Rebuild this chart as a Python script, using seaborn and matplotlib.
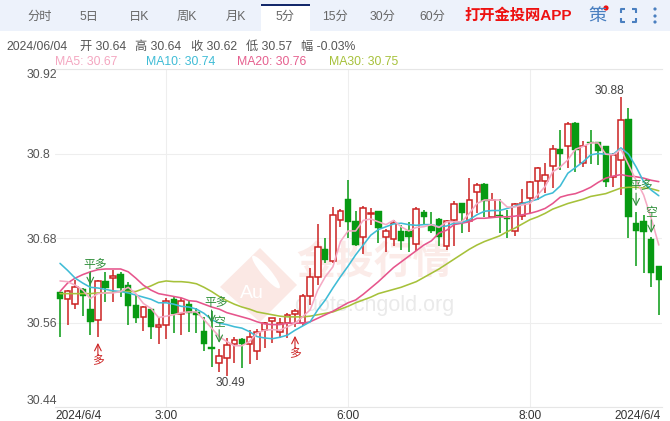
import numpy as np
import pandas as pd
import seaborn as sns
import matplotlib.pyplot as plt
from matplotlib.patches import Polygon, Rectangle, Circle, Ellipse

opens = [
    30.603, 30.593, 30.586, 30.607, 30.579, 30.563, 30.619, 30.623, 30.629, 30.613,
    30.585, 30.568, 30.579, 30.553, 30.557, 30.593, 30.572, 30.586, 30.575, 30.548,
    30.525, 30.502, 30.510, 30.529, 30.536, 30.530, 30.519, 30.550, 30.562, 30.546,
    30.560, 30.572, 30.559, 30.598, 30.625, 30.665, 30.648, 30.705, 30.735, 30.704,
    30.681, 30.714, 30.718, 30.681, 30.678, 30.690, 30.690, 30.671, 30.717, 30.698,
    30.707, 30.669, 30.706, 30.729, 30.704, 30.746, 30.757, 30.710, 30.712, 30.709,
    30.690, 30.711, 30.737, 30.761, 30.761, 30.782, 30.806, 30.810, 30.843, 30.786,
    30.817, 30.816, 30.811, 30.766, 30.791, 30.849, 30.701, 30.704, 30.679, 30.640]
closes = [
    30.593, 30.605, 30.610, 30.598, 30.561, 30.619, 30.609, 30.626, 30.609, 30.584,
    30.567, 30.582, 30.553, 30.557, 30.591, 30.572, 30.590, 30.573, 30.570, 30.529,
    30.523, 30.513, 30.528, 30.535, 30.529, 30.540, 30.546, 30.560, 30.566, 30.560,
    30.570, 30.577, 30.598, 30.624, 30.667, 30.649, 30.713, 30.719, 30.703, 30.670,
    30.722, 30.716, 30.694, 30.690, 30.701, 30.676, 30.682, 30.721, 30.710, 30.690,
    30.681, 30.704, 30.728, 30.716, 30.734, 30.755, 30.733, 30.734, 30.711, 30.707,
    30.728, 30.729, 30.759, 30.779, 30.769, 30.806, 30.799, 30.842, 30.805, 30.810,
    30.815, 30.804, 30.760, 30.798, 30.847, 30.710, 30.690, 30.688, 30.630, 30.620]
highs = [
    30.603, 30.606, 30.620, 30.609, 30.630, 30.620, 30.632, 30.634, 30.632, 30.617,
    30.599, 30.583, 30.581, 30.566, 30.595, 30.596, 30.595, 30.592, 30.581, 30.568,
    30.577, 30.523, 30.538, 30.540, 30.538, 30.549, 30.551, 30.561, 30.567, 30.566,
    30.573, 30.579, 30.601, 30.637, 30.700, 30.680, 30.724, 30.721, 30.762, 30.719,
    30.725, 30.723, 30.718, 30.693, 30.706, 30.699, 30.703, 30.724, 30.720, 30.717,
    30.708, 30.706, 30.732, 30.730, 30.765, 30.758, 30.758, 30.744, 30.736, 30.720,
    30.729, 30.749, 30.761, 30.781, 30.786, 30.812, 30.833, 30.845, 30.845, 30.818,
    30.833, 30.817, 30.811, 30.801, 30.880, 30.864, 30.717, 30.713, 30.682, 30.640]
lows = [
    30.540, 30.557, 30.579, 30.569, 30.542, 30.540, 30.589, 30.589, 30.596, 30.557,
    30.559, 30.548, 30.537, 30.530, 30.537, 30.545, 30.542, 30.547, 30.545, 30.519,
    30.497, 30.489, 30.484, 30.503, 30.496, 30.501, 30.507, 30.524, 30.531, 30.538,
    30.538, 30.554, 30.555, 30.585, 30.613, 30.644, 30.644, 30.695, 30.680, 30.668,
    30.657, 30.699, 30.673, 30.660, 30.668, 30.663, 30.660, 30.661, 30.698, 30.687,
    30.668, 30.663, 30.669, 30.687, 30.689, 30.715, 30.710, 30.710, 30.687, 30.680,
    30.683, 30.706, 30.715, 30.734, 30.744, 30.751, 30.777, 30.780, 30.774, 30.781,
    30.785, 30.784, 30.753, 30.752, 30.741, 30.680, 30.640, 30.630, 30.610, 30.570]

ma5 = [
    30.619, 30.618, 30.613, 30.606, 30.594, 30.601, 30.602, 30.602, 30.604, 30.610,
    30.601, 30.587, 30.580, 30.567, 30.569, 30.571, 30.574, 30.575, 30.575, 30.564,
    30.552, 30.540, 30.533, 30.527, 30.527, 30.533, 30.545, 30.549, 30.550, 30.549,
    30.554, 30.559, 30.568, 30.578, 30.606, 30.625, 30.639, 30.675, 30.690, 30.690,
    30.705, 30.707, 30.703, 30.699, 30.705, 30.696, 30.690, 30.695, 30.696, 30.699,
    30.695, 30.703, 30.703, 30.703, 30.715, 30.729, 30.734, 30.734, 30.734, 30.724,
    30.724, 30.727, 30.729, 30.741, 30.753, 30.774, 30.781, 30.791, 30.806, 30.810,
    30.815, 30.815, 30.799, 30.798, 30.806, 30.784, 30.762, 30.741, 30.708, 30.670]
ma10 = [
    30.644, 30.634, 30.623, 30.616, 30.610, 30.609, 30.607, 30.605, 30.604, 30.602,
    30.599, 30.596, 30.593, 30.588, 30.588, 30.586, 30.583, 30.582, 30.579, 30.573,
    30.564, 30.559, 30.557, 30.554, 30.552, 30.547, 30.540, 30.538, 30.537, 30.539,
    30.542, 30.549, 30.555, 30.561, 30.578, 30.592, 30.609, 30.625, 30.640, 30.656,
    30.670, 30.684, 30.692, 30.696, 30.700, 30.701, 30.699, 30.698, 30.699, 30.699,
    30.696, 30.697, 30.701, 30.702, 30.706, 30.713, 30.718, 30.719, 30.719, 30.722,
    30.725, 30.729, 30.732, 30.735, 30.741, 30.744, 30.754, 30.772, 30.780, 30.788,
    30.798, 30.800, 30.799, 30.799, 30.808, 30.799, 30.781, 30.760, 30.748, 30.740]
ma20 = [
    30.604, 30.616, 30.623, 30.628, 30.632, 30.635, 30.636, 30.636, 30.636, 30.632,
    30.623, 30.613, 30.606, 30.601, 30.599, 30.597, 30.595, 30.591, 30.590, 30.586,
    30.582, 30.579, 30.574, 30.571, 30.568, 30.565, 30.561, 30.558, 30.557, 30.557,
    30.559, 30.559, 30.559, 30.561, 30.566, 30.571, 30.576, 30.582, 30.588, 30.592,
    30.600, 30.609, 30.618, 30.628, 30.638, 30.646, 30.654, 30.662, 30.670, 30.676,
    30.687, 30.691, 30.699, 30.701, 30.703, 30.708, 30.708, 30.709, 30.710, 30.710,
    30.711, 30.713, 30.715, 30.718, 30.722, 30.729, 30.738, 30.741, 30.743, 30.747,
    30.752, 30.759, 30.765, 30.768, 30.770, 30.768, 30.767, 30.765, 30.762, 30.760]
ma30 = [
    30.601, 30.601, 30.601, 30.601, 30.601, 30.602, 30.602, 30.603, 30.604, 30.604,
    30.604, 30.608, 30.612, 30.617, 30.619, 30.618, 30.618, 30.617, 30.615, 30.610,
    30.604, 30.597, 30.591, 30.586, 30.582, 30.579, 30.575, 30.573, 30.571, 30.569,
    30.568, 30.568, 30.568, 30.569, 30.571, 30.573, 30.575, 30.579, 30.583, 30.588,
    30.592, 30.596, 30.601, 30.604, 30.607, 30.610, 30.614, 30.618, 30.624, 30.630,
    30.636, 30.643, 30.650, 30.657, 30.664, 30.670, 30.675, 30.679, 30.683, 30.689,
    30.694, 30.700, 30.706, 30.710, 30.715, 30.721, 30.725, 30.729, 30.732, 30.735,
    30.739, 30.741, 30.743, 30.747, 30.751, 30.752, 30.752, 30.751, 30.750, 30.747]

y_ticks = [30.44, 30.56, 30.68, 30.8, 30.92]
y_labels = ['30.44', '30.56', '30.68', '30.8', '30.92']
x_ticks = [-0.6, 14, 38, 62, 79.3]
x_labels = ['2024/6/4', '3:00', '6:00', '8:00', '2024/6/4']

tabs = ['分时', '5日', '日K', '周K', '月K', '5分', '15分', '30分', '60分']
tab_x = [40, 89, 139, 187, 236, 285, 335, 383, 432]

info = ['2024/06/04', '开 30.64', '高 30.64', '收 30.62', '低 30.57', '幅 -0.03%']
info_x = [6, 80, 135, 191, 246, 301]

# index of candle, text, price of arrow tip, direction
sig_x = [4, 5, 20, 21, 31, 76, 78]
sig_text = ['平多', '多', '平多', '空', '多', '平多', '空']
sig_price = [30.613, 30.531, 30.559, 30.531, 30.541, 30.725, 30.687]
sig_dir = ['down', 'up', 'down', 'down', 'up', 'down', 'down']

RED = '#cc2222'
GREEN = '#079a12'
SIG_GREEN = '#2f8f3a'

sns.set_theme(style='white')
plt.rcParams['font.family'] = ['Liberation Sans', 'Noto Sans CJK SC', 'DejaVu Sans']

fig = plt.figure(figsize=(6.7, 4.21), dpi=100, facecolor='white')

# page furniture, in pixels
bg = fig.add_axes([0, 0, 1, 1], zorder=0)
bg.set_xlim(0, 670)
bg.set_ylim(421, 0)
bg.axis('off')
bg.add_patch(Rectangle((0, 0), 670, 31, color='#edf2fb', lw=0))
bg.add_patch(Rectangle((261, 4), 49, 28, color='white', lw=0))
bg.add_patch(Rectangle((261, 4), 49, 2, color='#14296b', lw=0))
for t, x in zip(tabs, tab_x):
    bg.text(x, 17, t, ha='center', va='center', fontsize=8.8, color='#666666')
bg.text(518, 16, '打开金投网APP', ha='center', va='center', fontsize=11, color='#ee1111', fontweight='bold')
bg.text(597, 16, '策', ha='center', va='center', fontsize=13, color='#4a7fc0')
bg.add_patch(Circle((606, 8), 2.6, color='#ee1111', lw=0))
for sx, sy in [(621, 9), (636, 9), (621, 22), (636, 22)]:
    dx = 4 if sx == 621 else -4
    dy = 4 if sy == 9 else -4
    bg.plot([sx + dx, sx, sx], [sy, sy, sy + dy], color='#4a7fc0', lw=1.5, solid_capstyle='butt')
for yy in [9, 16, 22]:
    bg.add_patch(Circle((655, yy), 1.6, color='#4a7fc0', lw=0))

for t, x in zip(info, info_x):
    bg.text(x, 47, t, ha='left', va='center', fontsize=8.8, color='#555555')
bg.text(55, 62, 'MA5: 30.67', ha='left', va='center', fontsize=8.8, color='#f4a6c0')
bg.text(146, 62, 'MA10: 30.74', ha='left', va='center', fontsize=8.8, color='#3fbcd6')
bg.text(237, 62, 'MA20: 30.76', ha='left', va='center', fontsize=8.8, color='#e6608f')
bg.text(329, 62, 'MA30: 30.75', ha='left', va='center', fontsize=8.8, color='#a6c13a')

# watermark
bg.add_patch(Polygon([(220, 287), (260, 248), (297, 285), (260, 322)], color='#fbe8e4', lw=0))
bg.add_patch(Ellipse((266, 272), 42, 9, angle=50, color='white', lw=0))
bg.text(252, 294, 'Au', ha='center', va='center', fontsize=14, color='white')
bg.text(374, 264, '金投行情', ha='center', va='center', fontsize=28, color='#fbebe8', fontweight='bold')
bg.text(374, 305, 'quote.cngold.org', ha='center', va='center', fontsize=15.5, color='#eaeaea')

ax = fig.add_axes([55 / 670, 1 - 407 / 421, (662 - 55) / 670, (407 - 69) / 421], zorder=1)
ax.patch.set_alpha(0)

df = pd.DataFrame({'i': np.arange(len(opens)), 'open': opens, 'close': closes, 'high': highs, 'low': lows})
up = df[df['close'] >= df['open']]
down = df[df['close'] < df['open']]

ax.vlines(up['i'], up['low'], up['high'], color=RED, lw=1.1, zorder=2)
ax.vlines(down['i'], down['low'], down['high'], color=GREEN, lw=1.1, zorder=2)
ax.bar(up['i'], up['close'] - up['open'], bottom=up['open'], width=0.74,
       facecolor='white', edgecolor=RED, linewidth=1.1, zorder=3)
ax.bar(down['i'], down['close'] - down['open'], bottom=down['open'], width=0.84,
       facecolor=GREEN, edgecolor=GREEN, linewidth=0.3, zorder=3)

for vals, col in [(ma30, '#a6c13a'), (ma20, '#e6558c'), (ma10, '#3fbcd6'), (ma5, '#f5aac4')]:
    sns.lineplot(x=df['i'], y=vals, color=col, lw=1.15, ax=ax, zorder=4, legend=False)

# trade signals
for i, txt, p, d in zip(sig_x, sig_text, sig_price, sig_dir):
    col = SIG_GREEN if d == 'down' else RED
    off = 9.5 if d == 'down' else -9
    ax.annotate('', xy=(i, p), xytext=(0, off), textcoords='offset points',
                arrowprops=dict(arrowstyle='->', color=col, lw=0.8, shrinkA=0, shrinkB=0), zorder=5)
    tx = 3.5 if txt == '平多' else 0
    ty = 14.5 if d == 'down' else -13
    ax.annotate(txt, xy=(i, p), xytext=(tx, ty), textcoords='offset points',
                ha='center', va='center', fontsize=8.5, color=col, zorder=5)

imax = int(np.argmax(highs))
imin = int(np.argmin(lows))
ax.annotate('30.88', xy=(imax, highs[imax]), xytext=(-8.6, 0), textcoords='offset points',
            ha='center', va='bottom', fontsize=8.6, color='#444444', zorder=5)
ax.annotate('30.49', xy=(imin, lows[imin]), xytext=(3, -1), textcoords='offset points',
            ha='center', va='top', fontsize=8.6, color='#444444', zorder=5)

ax.set_xlim(-0.66, 79.42)
ax.set_ylim(30.44, 30.92)
ax.set_xlabel('')
ax.set_ylabel('')
ax.set_yticks(y_ticks)
ax.set_yticklabels(y_labels, fontsize=8.8, color='#555555', ha='left')
ax.set_xticks(x_ticks[1:4])
ax.set_xticklabels(x_labels[1:4], fontsize=8.6, color='#333333')
ax.tick_params(axis='y', length=0, pad=20.5)
ax.tick_params(axis='x', length=0, pad=2)
ax.get_yticklabels()[0].set_va('bottom')
ax.get_yticklabels()[-1].set_va('top')
ax.text(x_ticks[0], 30.436, x_labels[0], ha='left', va='top', fontsize=8.6, color='#333333')
ax.text(x_ticks[-1], 30.436, x_labels[-1], ha='right', va='top', fontsize=8.6, color='#333333')
ax.grid(True, color='#eeeeee', lw=0.8, zorder=0)
ax.set_axisbelow(True)
for s in ['left', 'right']:
    ax.spines[s].set_visible(False)
for s in ['top', 'bottom']:
    ax.spines[s].set_color('#e6e6e6')
    ax.spines[s].set_linewidth(0.8)

fig.savefig('out.png', dpi=100)
